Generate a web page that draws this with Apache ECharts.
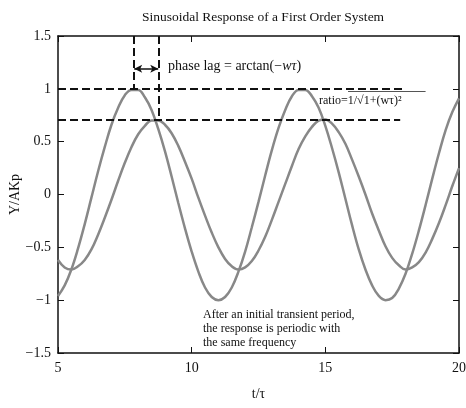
<!DOCTYPE html>
<html>
<head>
<meta charset="utf-8">
<script src="https://cdn.jsdelivr.net/npm/echarts@6/dist/echarts.min.js"></script>
<style>html,body{margin:0;padding:0;background:#fff}#c{width:466px;height:408px}</style>
</head>
<body>
<div id="c"></div>
<script>
var tValues = [5,5.25,5.5,5.75,6,6.25,6.5,6.75,7,7.25,7.5,7.75,8,8.25,8.5,8.75,9,9.25,9.5,9.75,10,10.25,10.5,10.75,11,11.25,11.5,11.75,12,12.25,12.5,12.75,13,13.25,13.5,13.75,14,14.25,14.5,14.75,15,15.25,15.5,15.75,16,16.25,16.5,16.75,17,17.25,17.5,17.75,18,18.25,18.5,18.75,19,19.25,19.5,19.75,20];
var inputValues = [-0.96,-0.86,-0.71,-0.51,-0.28,-0.03,0.22,0.45,0.66,0.82,0.94,0.99,0.99,0.92,0.80,0.62,0.41,0.17,-0.08,-0.32,-0.54,-0.73,-0.88,-0.97,-1.00,-0.97,-0.88,-0.73,-0.54,-0.31,-0.07,0.18,0.42,0.63,0.80,0.93,0.99,0.99,0.93,0.82,0.65,0.44,0.21,-0.04,-0.29,-0.52,-0.71,-0.86,-0.96,-1.00,-0.98,-0.89,-0.75,-0.56,-0.34,-0.10,0.15,0.39,0.61,0.78,0.91];
var responseValues = [-0.62,-0.69,-0.71,-0.68,-0.62,-0.52,-0.38,-0.22,-0.05,0.13,0.30,0.45,0.57,0.65,0.70,0.70,0.66,0.58,0.46,0.31,0.15,-0.03,-0.20,-0.36,-0.50,-0.61,-0.68,-0.71,-0.69,-0.63,-0.53,-0.40,-0.24,-0.07,0.10,0.27,0.43,0.55,0.64,0.70,0.71,0.67,0.59,0.48,0.33,0.17,0.00,-0.18,-0.34,-0.49,-0.60,-0.67,-0.71,-0.69,-0.64,-0.55,-0.42,-0.27,-0.10,0.08,0.25];
var xTicks = [5,10,15,20];
var yTicks = [-1.5,-1,-0.5,0,0.5,1,1.5];
var peakLevel = 1;
var ratioLevel = 0.707;
var inputPeakT = 7.85;
var responsePeakT = 8.75;
var guideEndT = 18;
var arrowLevel = 1.19;

var FONT = '"Liberation Serif","Times New Roman",serif';
function pairs(xs, ys){ return xs.map(function(x,i){ return [x, ys[i]]; }); }
function fmt(v){ return String(v).replace('-', '\u2212'); }
var dash = {color:'#111', width:2, type:[8,4]};

var chart = echarts.init(document.getElementById('c'), null, {renderer:'canvas'});
var axisCommon = {
  axisLine:{show:true, onZero:false, lineStyle:{color:'#111', width:1.5}},
  axisTick:{show:true, inside:true, length:6, lineStyle:{color:'#111', width:1}},
  splitLine:{show:false}
};
chart.setOption({
  animation:false,
  backgroundColor:'#fff',
  title:{text:'Sinusoidal Response of a First Order System', left:258, textAlign:'center', top:5,
    textStyle:{fontFamily:FONT, fontSize:13.5, fontWeight:'normal', color:'#111'}},
  grid:{left:58, right:7, top:36, bottom:55, containLabel:false, outerBoundsMode:'none'},
  xAxis:[
    Object.assign({type:'value', min:xTicks[0], max:xTicks[xTicks.length-1], interval:5, position:'bottom',
      name:'t/\u03c4', nameLocation:'middle', nameGap:34, nameMoveOverlap:false,
      nameTextStyle:{fontFamily:FONT, fontSize:14, color:'#111'},
      axisLabel:{fontFamily:FONT, fontSize:14, color:'#111', margin:8, formatter:fmt}}, axisCommon),
    Object.assign({type:'value', min:xTicks[0], max:xTicks[xTicks.length-1], interval:5, position:'top',
      axisLabel:{show:false}}, axisCommon)
  ],
  yAxis:[
    Object.assign({type:'value', min:yTicks[0], max:yTicks[yTicks.length-1], interval:0.5, position:'left',
      name:'Y/AKp', nameLocation:'middle', nameGap:36, nameMoveOverlap:false,
      nameTextStyle:{fontFamily:FONT, fontSize:14, color:'#111'},
      axisLabel:{fontFamily:FONT, fontSize:14, color:'#111', margin:7, formatter:fmt}}, axisCommon),
    Object.assign({type:'value', min:yTicks[0], max:yTicks[yTicks.length-1], interval:0.5, position:'right',
      axisLabel:{show:false}}, axisCommon)
  ],
  series:[
    {type:'line', data:pairs(tValues, inputValues), smooth:0.4, showSymbol:false,
      lineStyle:{color:'#888', width:2.5}, z:2},
    {type:'line', data:pairs(tValues, responseValues), smooth:0.4, showSymbol:false,
      lineStyle:{color:'#888', width:2.5}, z:2,
      markLine:{silent:true, symbol:'none', animation:false, label:{show:false}, z:5,
        data:[
          [{coord:[xTicks[0], peakLevel], lineStyle:dash},{coord:[guideEndT, peakLevel]}],
          [{coord:[xTicks[0], ratioLevel], lineStyle:dash},{coord:[guideEndT-0.2, ratioLevel]}],
          [{coord:[inputPeakT, yTicks[yTicks.length-1]], lineStyle:dash},{coord:[inputPeakT, peakLevel]}],
          [{coord:[responsePeakT, yTicks[yTicks.length-1]], lineStyle:dash},{coord:[responsePeakT, ratioLevel]}],
          [{coord:[inputPeakT, arrowLevel], symbol:'arrow', symbolSize:[6,8], lineStyle:{color:'#111', width:1.5, type:'solid'}},
           {coord:[responsePeakT, arrowLevel], symbol:'arrow', symbolSize:[6,8]}],
          [{coord:[15.85, 0.975], lineStyle:{color:'#555', width:1, type:'solid'}},{coord:[18.75, 0.975]}]
        ]}}
  ],
  graphic:[
    {type:'text', left:168, top:59, style:{text:'phase lag = arctan(\u2212{i|w}{i|\u03c4})', font:'14px '+FONT, fill:'#111',
      rich:{i:{fontFamily:FONT, fontSize:14, fontStyle:'italic', fill:'#111'}}}},
    {type:'text', left:319, top:95, style:{text:'ratio=1/\u221a1+(w\u03c4)\u00b2', font:'12px '+FONT, fill:'#111'}},
    {type:'text', left:203, top:308, style:{text:'After an initial transient period,\nthe response is periodic with\nthe same frequency', font:'12px '+FONT, fill:'#111', lineHeight:14}}
  ]
});
</script>
</body>
</html>
